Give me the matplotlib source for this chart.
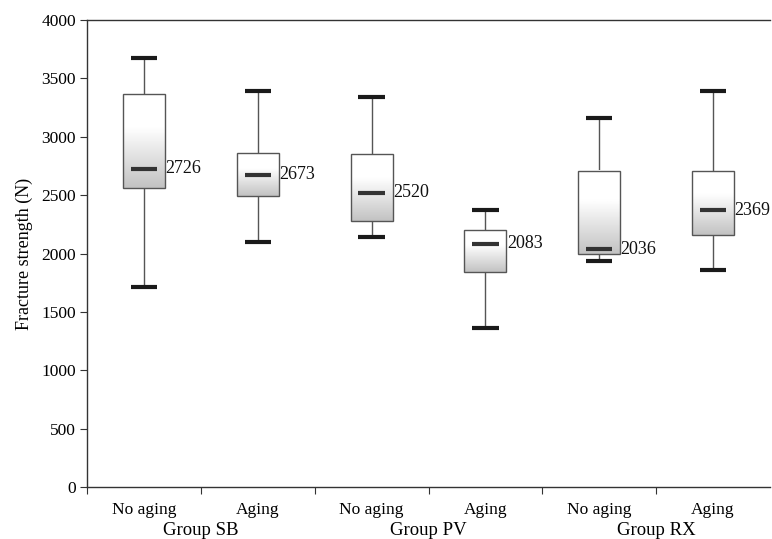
import numpy as np
import matplotlib
matplotlib.use("Agg")
import matplotlib.pyplot as plt
from matplotlib.patches import Rectangle
from matplotlib.transforms import blended_transform_factory

# ---- data ----
conditions = ["No aging", "Aging", "No aging", "Aging", "No aging", "Aging"]
groups = ["Group SB", "Group PV", "Group RX"]
whisker_low = [1713, 2101, 2141, 1362, 1936, 1859]
q1 = [2563, 2492, 2281, 1842, 1993, 2161]
medians = [2726, 2673, 2520, 2083, 2036, 2369]
q3 = [3368, 2858, 2852, 2201, 2709, 2709]
whisker_high = [3672, 3392, 3343, 2373, 3163, 3388]
median_labels = ["2726", "2673", "2520", "2083", "2036", "2369"]
yticks = [0, 500, 1000, 1500, 2000, 2500, 3000, 3500, 4000]

plt.rcParams['font.family'] = ['Liberation Serif', 'DejaVu Serif']

fig = plt.figure(figsize=(7.72, 5.39), dpi=100)
ax = fig.add_axes([87/772, 52/539, 683/772, 467/539])

box_w = 0.37
cap_w = 0.23
med_w = 0.23

# gradient (top white -> bottom light gray)
t = np.linspace(0, 1, 200)
g = np.where(t < 0.35, 1.0, 1.0 - 0.24 * ((t - 0.35) / 0.65))
grad = g[:, None] * np.ones((1, 10))

for i in range(len(medians)):
    x = i
    # whiskers
    ax.plot([x, x], [q3[i], whisker_high[i]], color="#555555", lw=1.0, zorder=2)
    ax.plot([x, x], [whisker_low[i], q1[i]], color="#555555", lw=1.0, zorder=2)
    # caps
    ax.plot([x - cap_w/2, x + cap_w/2], [whisker_high[i]] * 2, color="#1a1a1a", lw=3.0,
            solid_capstyle="butt", zorder=3)
    ax.plot([x - cap_w/2, x + cap_w/2], [whisker_low[i]] * 2, color="#1a1a1a", lw=3.0,
            solid_capstyle="butt", zorder=3)
    # box gradient
    ax.imshow(grad, cmap="gray", vmin=0, vmax=1, aspect="auto",
              extent=[x - box_w/2, x + box_w/2, q1[i], q3[i]], origin="upper",
              interpolation="bilinear", zorder=2)
    ax.add_patch(Rectangle((x - box_w/2, q1[i]), box_w, q3[i] - q1[i], fill=False,
                           edgecolor="#555555", lw=1.0, zorder=3))
    # median
    ax.plot([x - med_w/2, x + med_w/2], [medians[i]] * 2, color="#333333", lw=3.0,
            solid_capstyle="butt", zorder=4)
    ax.text(x + box_w/2 + 0.003, medians[i], median_labels[i], ha="left", va="center",
            fontsize=13, color="#111111", zorder=5, clip_on=False)

ax.set_xlim(-0.5, 5.5)
ax.set_ylim(0, 4000)
ax.set_yticks(yticks)
ax.set_yticklabels([str(v) for v in yticks], fontsize=12.5)

ax.set_xticks([-0.5, 0.5, 1.5, 2.5, 3.5, 4.5])
ax.set_xticklabels([])
ax.set_xticks(range(len(conditions)), minor=True)
ax.set_xticklabels(conditions, minor=True, fontsize=12.5)
ax.tick_params(axis="x", which="minor", length=0, pad=11)
ax.tick_params(axis="x", which="major", length=5, direction="out", color="#333333")
ax.tick_params(axis="y", length=5, direction="out", color="#333333", pad=3)

ax.spines["right"].set_visible(False)
for s in ["left", "bottom", "top"]:
    ax.spines[s].set_color("#333333")
    ax.spines[s].set_linewidth(1.0)

trans = blended_transform_factory(ax.transData, ax.transAxes)
for j, gname in enumerate(groups):
    ax.text(2 * j + 0.5, -0.093, gname, transform=trans, ha="center", va="center",
            fontsize=13.5)

ax.set_ylabel("Fracture strength (N)", fontsize=13, labelpad=6)

fig.savefig("out.png", dpi=100)
